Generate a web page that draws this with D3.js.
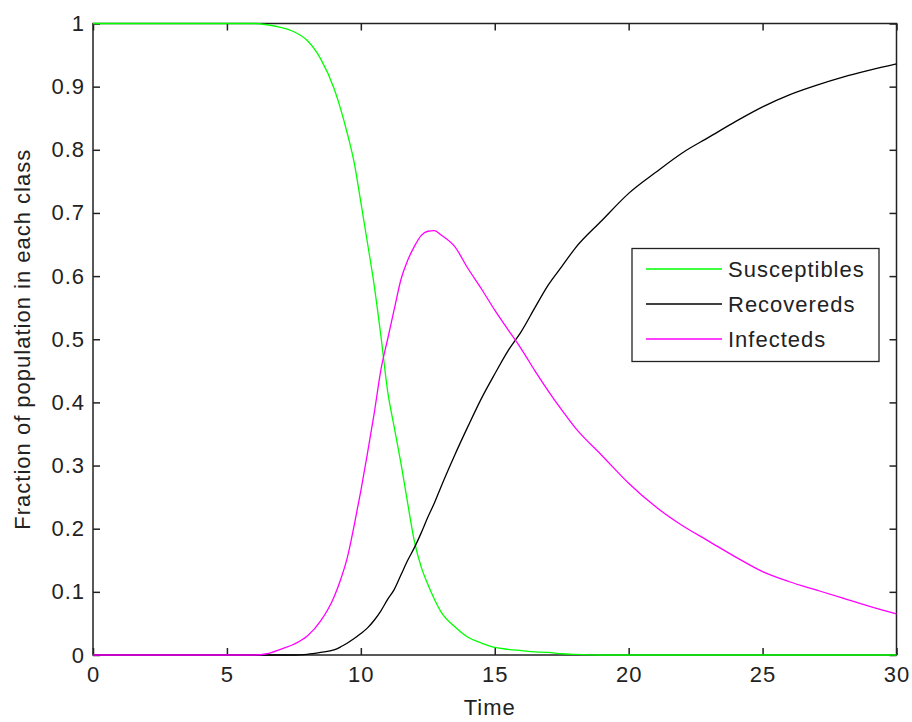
<!DOCTYPE html>
<html lang="en">
<head>
  <meta charset="UTF-8">
  <title>SIR model</title>
  <script src="https://d3js.org/d3.v7.min.js"></script>
  <style>
    body { margin: 0; background: #fff; }
    text { font-family: "Liberation Sans", Arial, sans-serif; fill: #222; letter-spacing: 1px; }
    .line { fill: none; stroke-width: 1.3px; }
  </style>
</head>
<body>
  <div id="chart"></div>

  <script>
    // time points
    const time = [0, 6, 6.5, 7, 7.5, 8, 8.5, 9, 9.25, 9.5, 9.75, 10, 10.25, 10.5, 10.75, 11,
      11.25, 11.5, 11.75, 12, 12.25, 12.5, 12.75, 13, 13.5, 14, 14.5, 15, 15.5, 16, 16.5, 17,
      17.5, 18, 19, 20, 21, 22, 23, 24, 25, 26, 27, 28, 29, 30];

    const susceptibles = [1, 1, 0.998, 0.994, 0.987, 0.973, 0.944, 0.897, 0.864, 0.825, 0.78, 0.717,
      0.652, 0.585, 0.505, 0.418, 0.36, 0.303, 0.24, 0.18, 0.14, 0.112, 0.088, 0.068, 0.045, 0.028,
      0.019, 0.012, 0.009, 0.007, 0.005, 0.004, 0.002, 0.001, 0, 0, 0, 0, 0, 0, 0, 0, 0, 0, 0, 0];

    const recovereds = [0, 0, 0, 0, 0, 0.001, 0.004, 0.008, 0.013, 0.019, 0.026, 0.034, 0.043, 0.055,
      0.07, 0.088, 0.104, 0.127, 0.15, 0.17, 0.193, 0.218, 0.241, 0.267, 0.316, 0.362, 0.406, 0.445,
      0.482, 0.513, 0.55, 0.586, 0.615, 0.644, 0.688, 0.731, 0.764, 0.795, 0.82, 0.845, 0.868,
      0.887, 0.902, 0.915, 0.926, 0.936];

    const infecteds = [0, 0, 0.002, 0.009, 0.017, 0.03, 0.054, 0.092, 0.12, 0.155, 0.205, 0.26,
      0.32, 0.383, 0.452, 0.5, 0.548, 0.595, 0.625, 0.647, 0.664, 0.671, 0.672, 0.665, 0.647, 0.612,
      0.58, 0.546, 0.515, 0.484, 0.45, 0.418, 0.388, 0.36, 0.316, 0.272, 0.235, 0.205, 0.18, 0.155,
      0.132, 0.116, 0.103, 0.09, 0.077, 0.065];

    const seriesNames = ["Susceptibles", "Recovereds", "Infecteds"];
    const seriesColors = ["#00ff00", "#000000", "#ff00ff"];
    const seriesValues = [susceptibles, recovereds, infecteds];

    const xTicks = [0, 5, 10, 15, 20, 25, 30];
    const yTicks = [0, 0.1, 0.2, 0.3, 0.4, 0.5, 0.6, 0.7, 0.8, 0.9, 1];

    const width = 912, height = 722;
    const margin = {top: 23.5, right: 15.5, bottom: 67, left: 93};
    const w = width - margin.left - margin.right;
    const h = height - margin.top - margin.bottom;

    const svg = d3.select("#chart").append("svg")
      .attr("width", width)
      .attr("height", height);

    const g = svg.append("g")
      .attr("transform", `translate(${margin.left},${margin.top})`);

    const x = d3.scaleLinear().domain([0, 30]).range([0, w]);
    const y = d3.scaleLinear().domain([0, 1]).range([h, 0]);

    const fontSize = "22px";

    // axes, ticks pointing inwards
    g.append("g").attr("transform", `translate(0,${h})`)
      .call(d3.axisBottom(x).tickValues(xTicks).tickSizeInner(-7).tickSizeOuter(0).tickPadding(11));
    g.append("g")
      .call(d3.axisTop(x).tickValues(xTicks).tickSizeInner(-7).tickSizeOuter(0).tickFormat(""));
    g.append("g")
      .call(d3.axisLeft(y).tickValues(yTicks).tickSizeInner(-7).tickSizeOuter(0).tickPadding(8)
        .tickFormat(d => d3.format("")(+d.toFixed(1))));
    g.append("g").attr("transform", `translate(${w},0)`)
      .call(d3.axisRight(y).tickValues(yTicks).tickSizeInner(-7).tickSizeOuter(0).tickFormat(""));

    g.selectAll(".domain").remove();
    g.selectAll(".tick line").attr("stroke", "#222").attr("stroke-width", 1.5);
    g.selectAll(".tick text").style("font-size", fontSize).attr("fill", "#222")
      .style("font-family", "'Liberation Sans', Arial, sans-serif");

    g.append("rect")
      .attr("width", w).attr("height", h)
      .attr("fill", "none").attr("stroke", "#222").attr("stroke-width", 1.5);

    // lines
    const line = d3.line()
      .x((d, i) => x(time[i]))
      .y(d => y(d))
      .curve(d3.curveMonotoneX);

    seriesValues.forEach((vals, k) => {
      g.append("path")
        .datum(vals)
        .attr("class", "line")
        .attr("stroke", seriesColors[k])
        .attr("d", line);
    });

    // axis labels
    g.append("text")
      .attr("x", w / 2 - 5)
      .attr("y", h + 60)
      .attr("text-anchor", "middle")
      .style("font-size", fontSize)
      .text("Time");

    g.append("text")
      .attr("transform", `translate(${22 - margin.left},${h / 2}) rotate(-90)`)
      .attr("text-anchor", "middle")
      .attr("dy", "0.35em")
      .style("font-size", fontSize)
      .text("Fraction of population in each class");

    // legend
    const legend = svg.append("g").attr("transform", "translate(632,248.5)");
    legend.append("rect")
      .attr("width", 247).attr("height", 113)
      .attr("fill", "#fff").attr("stroke", "#222").attr("stroke-width", 1.3);

    seriesNames.forEach((name, k) => {
      const ly = 20.5 + k * 35;
      legend.append("line")
        .attr("x1", 14).attr("x2", 90)
        .attr("y1", ly).attr("y2", ly)
        .attr("stroke", seriesColors[k]).attr("stroke-width", 1.3);
      legend.append("text")
        .attr("x", 96).attr("y", ly)
        .attr("dy", "0.35em")
        .style("font-size", fontSize)
        .text(name);
    });
  </script>
</body>
</html>
